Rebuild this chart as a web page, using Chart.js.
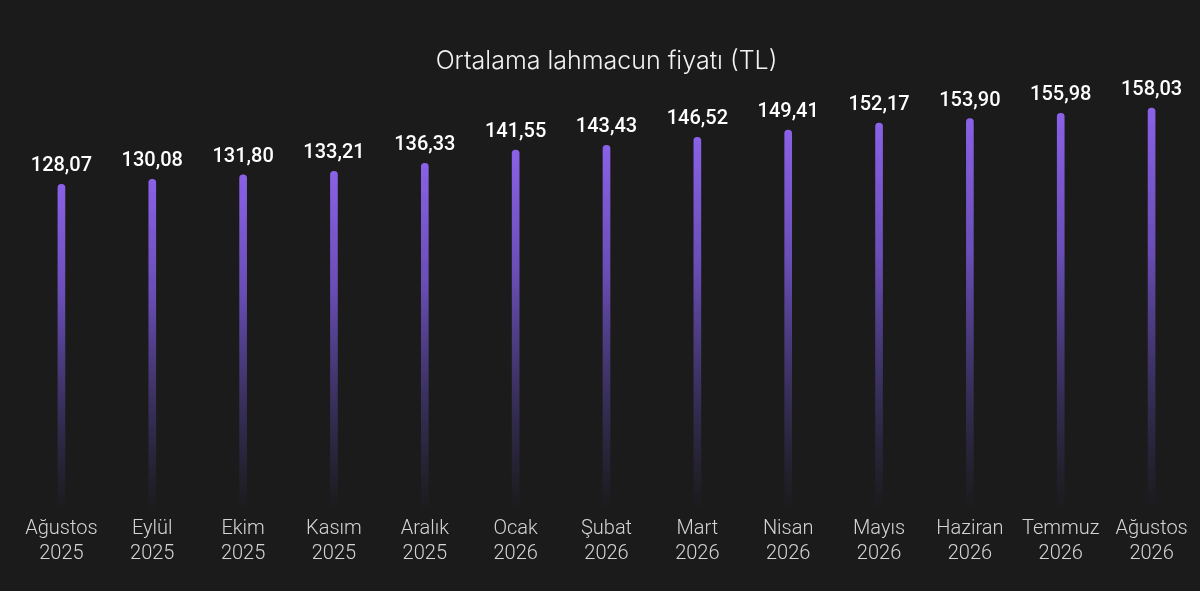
<!DOCTYPE html>
<html>
<head>
<meta charset="utf-8">
<script src="https://cdn.jsdelivr.net/npm/chart.js@4.4.1/dist/chart.umd.min.js"></script>
<style>
  html, body { margin: 0; padding: 0; background: #1c1b1c; }
  #wrap { width: 1200px; height: 591px; position: relative; }
</style>
</head>
<body>
<div id="wrap"><canvas id="chart"></canvas></div>
<script>
// values
const months = ['Ağustos', 'Eylül', 'Ekim', 'Kasım', 'Aralık', 'Ocak', 'Şubat', 'Mart', 'Nisan', 'Mayıs', 'Haziran', 'Temmuz', 'Ağustos'];
const years = ['2025', '2025', '2025', '2025', '2025', '2026', '2026', '2026', '2026', '2026', '2026', '2026', '2026'];
const prices = [128.07, 130.08, 131.80, 133.21, 136.33, 141.55, 143.43, 146.52, 149.41, 152.17, 153.90, 155.98, 158.03];

const labels = months.map((m, i) => [m, years[i]]);
const fmt = v => v.toFixed(2).replace('.', ',');

// fade each bar from purple at its top to nothing at the baseline
function barFill(context) {
    const chart = context.chart;
    const { ctx, chartArea, scales } = chart;
    if (!chartArea) return '#8b62e8';
    const top = scales.y.getPixelForValue(context.raw);
    const bottom = scales.y.getPixelForValue(0);
    const g = ctx.createLinearGradient(0, top, 0, bottom);
    g.addColorStop(0, 'rgba(139, 98, 232, 1)');
    g.addColorStop(0.35, 'rgba(125, 90, 220, 0.8)');
    g.addColorStop(0.75, 'rgba(100, 80, 190, 0.3)');
    g.addColorStop(1, 'rgba(90, 70, 170, 0)');
    return g;
}

const valueLabels = {
    id: 'valueLabels',
    afterDatasetsDraw(chart) {
        const ctx = chart.ctx;
        const meta = chart.getDatasetMeta(0);
        ctx.save();
        ctx.fillStyle = '#ffffff';
        ctx.font = '500 20px Roboto';
        ctx.textAlign = 'center';
        ctx.textBaseline = 'bottom';
        meta.data.forEach((bar, i) => {
            ctx.fillText(fmt(prices[i]), bar.x, bar.y - 8);
        });
        ctx.restore();
    }
};

new Chart(document.getElementById('chart'), {
    type: 'bar',
    data: {
        labels: labels,
        datasets: [{
            data: prices,
            backgroundColor: barFill,
            barThickness: 7,
            borderRadius: { topLeft: 4, topRight: 4 },
            borderSkipped: 'bottom'
        }]
    },
    options: {
        responsive: true,
        maintainAspectRatio: false,
        animation: false,
        layout: { padding: { left: 16, right: 3, bottom: 28 } },
        plugins: {
            legend: { display: false },
            tooltip: { enabled: false },
            title: {
                display: true,
                text: 'Ortalama lahmacun fiyatı (TL)',
                color: '#f2f2f2',
                font: { family: 'Inter', size: 25, weight: '300' },
                padding: { top: 46, bottom: 27 }
            }
        },
        scales: {
            x: {
                grid: { display: false },
                border: { display: false },
                ticks: {
                    color: '#d4d4d4',
                    font: { family: 'Roboto', size: 20, weight: '300', lineHeight: 1.25 },
                    padding: -3,
                    maxRotation: 0,
                    autoSkip: false
                }
            },
            y: {
                display: false,
                min: 0,
                max: 160
            }
        }
    },
    plugins: [valueLabels]
});
</script>
</body>
</html>
